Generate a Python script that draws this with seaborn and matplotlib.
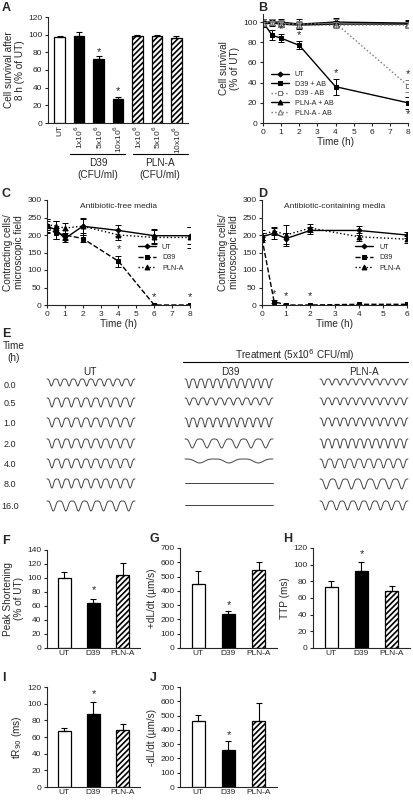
import numpy as np
import pandas as pd
import matplotlib
matplotlib.use("Agg")
import matplotlib.pyplot as plt
import seaborn as sns

sns.set_theme(style="ticks")
plt.rcParams['font.family'] = ['Liberation Sans', 'DejaVu Sans']
plt.rcParams['hatch.linewidth'] = 1.2
FS_T = 6.0
FS_L = 7.2

# ---------------- data ----------------
a_cats = ["UT", "1x10$^6$", "5x10$^6$", "10x10$^6$", "1x10$^6$ ", "5x10$^6$ ", "10x10$^6$ "]
a_vals = [97, 98, 72, 27, 98, 99, 96]
a_err = [2, 5, 4, 2, 2, 1, 2]

b_time = [0, 0.5, 1, 2, 4, 8]
b_ut = [100, 100, 100, 98, 100, 99]
b_ut_err = [3, 3, 3, 5, 4, 3]
b_d39_ab = [100, 87, 84, 77, 36, 20]
b_d39_ab_err = [3, 5, 4, 4, 8, 6]
b_d39_noab = [100, 100, 99, 98, 99, 37]
b_d39_noab_err = [3, 3, 3, 3, 4, 6]
b_pln_ab = [98, 99, 98, 97, 98, 98]
b_pln_ab_err = [3, 3, 3, 3, 3, 3]
b_pln_noab = [99, 100, 98, 97, 97, 97]
b_pln_noab_err = [3, 3, 3, 3, 3, 3]

c_time = [0, 0.5, 1, 2, 4, 6, 8]
c_ut = [225, 215, 190, 225, 213, 198, 198]
c_ut_err = [20, 25, 10, 25, 15, 20, 25]
c_d39 = [225, 205, 200, 190, 125, 0, 0]
c_d39_err = [15, 15, 15, 10, 15, 2, 2]
c_pln = [230, 225, 220, 225, 200, 193, 193]
c_pln_err = [15, 15, 15, 20, 15, 20, 30]

d_time = [0, 0.5, 1, 2, 4, 6]
d_ut = [195, 205, 190, 213, 213, 200]
d_ut_err = [10, 15, 15, 10, 12, 8]
d_d39 = [190, 10, 0, 0, 2, 2]
d_d39_err = [10, 5, 1, 1, 1, 1]
d_pln = [200, 212, 200, 220, 195, 188]
d_pln_err = [15, 12, 30, 12, 12, 10]

e_rows = ["0.0", "0.5", "1.0", "2.0", "4.0", "8.0", "16.0"]
e_ut_beats = [10, 9, 9, 9, 9, 9, 7]
e_ut_amp = [7, 9, 9, 9, 9, 9, 10]
e_d39_beats = [11, 10, 11, 6, 3, 0, 0]
e_d39_amp = [9, 7, 9, 9, 4, 0, 0]
e_pln_beats = [11, 11, 11, 11, 9, 7, 8]
e_pln_amp = [6, 7, 8, 9, 9, 10, 9]

groups = ["UT", "D39", "PLN-A"]
f_vals, f_err = [100, 64, 105], [8, 6, 17]
g_vals, g_err = [450, 237, 545], [90, 22, 57]
h_vals, h_err = [73, 92, 68], [8, 11, 7]
i_vals, i_err = [67, 88, 69], [4, 14, 7]
j_vals, j_err = [460, 260, 465], [45, 60, 120]

# ---------------- figure ----------------
W, H = 414, 800
fig = plt.figure(figsize=(W / 100, H / 100), dpi=100)


def px_axes(x0, y0, x1, y1):
    return fig.add_axes([x0 / W, 1 - y1 / H, (x1 - x0) / W, (y1 - y0) / H])


def style(ax):
    sns.despine(ax=ax)
    for s in ax.spines.values():
        s.set_linewidth(0.8)
    ax.tick_params(labelsize=FS_T, length=2.5, width=0.8, pad=1.5)


def letter(x, y, t):
    fig.text(x / W, 1 - y / H, t, fontsize=9, fontweight="bold", va="top")


fills = ["white", "black", "white"]
hatches = ["", "", "//////"]


def bar_panel(ax, cats, vals, errs, kinds, ylim, ytks, width=0.45):
    df = pd.DataFrame({"cat": cats, "val": vals})
    sns.barplot(data=df, x="cat", y="val", ax=ax, color="white", width=width,
                edgecolor="black", linewidth=0.9, errorbar=None)
    for p, k in zip(ax.patches, kinds):
        p.set_facecolor(fills[k])
        p.set_hatch(hatches[k])
    ax.errorbar(range(len(vals)), vals, yerr=[np.zeros(len(vals)), errs], fmt="none",
                ecolor="black", elinewidth=0.8, capsize=2, capthick=0.8)
    ax.set_ylim(*ylim)
    ax.set_yticks(ytks)
    ax.set_xlim(-0.6, len(vals) - 0.4)
    ax.set_xlabel("")
    style(ax)
    ax.tick_params(axis="x", length=0)


def star(ax, x, y):
    ax.text(x, y, "*", ha="center", va="bottom", fontsize=8)


# ---- A ----
letter(2, 2, "A")
axA = px_axes(48, 17, 188, 123)
bar_panel(axA, a_cats, a_vals, a_err, [0, 1, 1, 1, 2, 2, 2], (0, 120), range(0, 121, 20), width=0.55)
axA.set_xticks(range(7))
axA.set_xticklabels(a_cats, rotation=90)
axA.set_ylabel("Cell survival after\n8 h (% of UT)", fontsize=FS_L, labelpad=2)
star(axA, 2, 75)
star(axA, 3, 30)
for x0, x1, xc, t in [(70, 125, 98, "D39"), (133, 188, 160, "PLN-A")]:
    fig.add_artist(plt.Line2D([x0 / W, x1 / W], [1 - 154 / H] * 2, color="black", lw=0.8))
    fig.text(xc / W, 1 - 158 / H, t + "\n(CFU/ml)", ha="center", va="top", fontsize=FS_L)


def series(ax, t, v, e, ls, marker, mfc, color="black", ms=3.5, label=None):
    df = pd.DataFrame({"t": t, "v": v})
    sns.lineplot(data=df, x="t", y="v", ax=ax, color=color, linestyle=ls, marker=marker,
                 markerfacecolor=mfc, markeredgecolor=color, markersize=ms, lw=1.0,
                 label=label, errorbar=None)
    ax.errorbar(t, v, yerr=e, fmt="none", ecolor=color, elinewidth=0.7, capsize=2, capthick=0.7)


# ---- B ----
letter(258, 2, "B")
axB = px_axes(263, 14, 408, 123)
series(axB, b_time, b_ut, b_ut_err, "-", "D", "black", ms=2.5, label="UT")
series(axB, b_time, b_d39_ab, b_d39_ab_err, "-", "s", "black", label="D39 + AB")
series(axB, b_time, b_d39_noab, b_d39_noab_err, ":", "s", "white", color="#777777", label="D39 - AB")
series(axB, b_time, b_pln_ab, b_pln_ab_err, "-", "^", "black", label="PLN-A + AB")
series(axB, b_time, b_pln_noab, b_pln_noab_err, ":", "^", "white", color="#777777", label="PLN-A - AB")
axB.set_xlim(0, 8)
axB.set_ylim(0, 108)
axB.set_xticks(range(9))
axB.set_yticks(range(0, 101, 20))
axB.set_xlabel("Time (h)", fontsize=FS_L, labelpad=1)
axB.set_ylabel("Cell survival\n(% of UT)", fontsize=FS_L, labelpad=2)
style(axB)
axB.legend(loc="lower left", bbox_to_anchor=(0.01, 0.0), fontsize=5.2, frameon=False,
           handlelength=2.5, labelspacing=0.35)
for x, y in [(1, 88), (2, 82), (4, 45), (8, 44)]:
    star(axB, x, y)
star(axB, 8, 4)

# ---- C ----
letter(2, 188, "C")
axC = px_axes(47, 200, 190, 305)
series(axC, c_time, c_ut, c_ut_err, "-", "D", "black", ms=2.5, label="UT")
series(axC, c_time, c_d39, c_d39_err, "--", "s", "black", label="D39")
series(axC, c_time, c_pln, c_pln_err, ":", "^", "black", label="PLN-A")
axC.set_xlim(0, 8)
axC.set_ylim(0, 300)
axC.set_xticks(range(9))
axC.set_yticks(range(0, 301, 50))
axC.set_xlabel("Time (h)", fontsize=FS_L, labelpad=1)
axC.set_ylabel("Contracting cells/\nmicroscopic field", fontsize=FS_L, labelpad=2)
axC.set_title("Antibiotic-free media", fontsize=FS_T, pad=-6, y=1.0)
style(axC)
axC.legend(loc="center right", bbox_to_anchor=(1.0, 0.45), fontsize=5.2, frameon=False,
           handlelength=2.5, labelspacing=0.5)
for x, y in [(4, 145), (6, 8), (8, 8)]:
    star(axC, x, y)

# ---- D ----
letter(258, 188, "D")
axD = px_axes(262, 200, 407, 305)
series(axD, d_time, d_ut, d_ut_err, "-", "D", "black", ms=2.5, label="UT")
series(axD, d_time, d_d39, d_d39_err, "--", "s", "black", label="D39")
series(axD, d_time, d_pln, d_pln_err, ":", "^", "black", label="PLN-A")
axD.set_xlim(0, 6)
axD.set_ylim(0, 300)
axD.set_xticks(range(7))
axD.set_yticks(range(0, 301, 50))
axD.set_xlabel("Time (h)", fontsize=FS_L, labelpad=1)
axD.set_ylabel("Contracting cells/\nmicroscopic field", fontsize=FS_L, labelpad=2)
axD.set_title("Antibiotic-containing media", fontsize=FS_T, pad=-6, y=1.0)
style(axD)
axD.legend(loc="center right", bbox_to_anchor=(1.0, 0.45), fontsize=5.2, frameon=False,
           handlelength=2.5, labelspacing=0.5)
for x, y in [(0.5, 18), (1, 10), (2, 10)]:
    star(axD, x, y)

# ---- E ----
letter(2, 328, "E")
axE = px_axes(0, 330, 414, 520)
axE.set_xlim(0, 414)
axE.set_ylim(520, 330)
axE.axis("off")
axE.text(14, 352, "Time\n(h)", fontsize=FS_L, ha="center", va="center")
axE.text(295, 355, "Treatment (5x10$^6$ CFU/ml)", fontsize=FS_L, ha="center", va="center")
axE.plot([183, 408], [362, 362], color="black", lw=0.8)
for xc, t in [(90, "UT"), (230, "D39"), (364, "PLN-A")]:
    axE.text(xc, 372, t, fontsize=FS_L, ha="center", va="center")
row_y = [383, 402, 422, 443, 463, 483, 505]
for i, (lab, yy) in enumerate(zip(e_rows, row_y)):
    axE.text(10, yy + 2, lab, fontsize=FS_T + 0.5, ha="center", va="center")
    for x0, x1, beats, amps in [(47, 135, e_ut_beats, e_ut_amp),
                                (185, 273, e_d39_beats, e_d39_amp),
                                (320, 408, e_pln_beats, e_pln_amp)]:
        xs = np.linspace(0, 1, 400)
        n, a = beats[i], amps[i]
        ys = yy - 4 + a * np.sin(np.pi * n * xs) ** 4 if n else np.full_like(xs, yy)
        axE.plot(x0 + xs * (x1 - x0), ys, color="#444444", lw=0.7)

# ---- F-J ----
ylabels = ["Peak Shortening\n(% of UT)", "+dL/dt (\u00b5m/s)", "TTP (ms)",
           "tR$_{90}$ (ms)", "-dL/dt (\u00b5m/s)"]
specs = [("F", (47, 550, 140, 648), f_vals, f_err, (0, 140), range(0, 141, 20), 75),
         ("G", (180, 548, 277, 648), g_vals, g_err, (0, 700), range(0, 701, 100), 265),
         ("H", (313, 548, 410, 648), h_vals, h_err, (0, 120), range(0, 121, 20), 107),
         ("I", (47, 687, 140, 787), i_vals, i_err, (0, 120), range(0, 121, 20), 105),
         ("J", (180, 687, 277, 787), j_vals, j_err, (0, 700), range(0, 701, 100), 330)]
for (L, (x0, y0, x1, y1), v, e, yl, yt, sy), lab in zip(specs, ylabels):
    letter(x0 - 45 if L in "FI" else x0 - 30, y0 - 15, L)
    ax = px_axes(x0, y0, x1, y1)
    bar_panel(ax, groups, v, e, [0, 1, 2], yl, yt, width=0.42)
    ax.set_ylabel(lab, fontsize=FS_L, labelpad=2)
    star(ax, 1, sy)

fig.savefig("out.png", dpi=100)
